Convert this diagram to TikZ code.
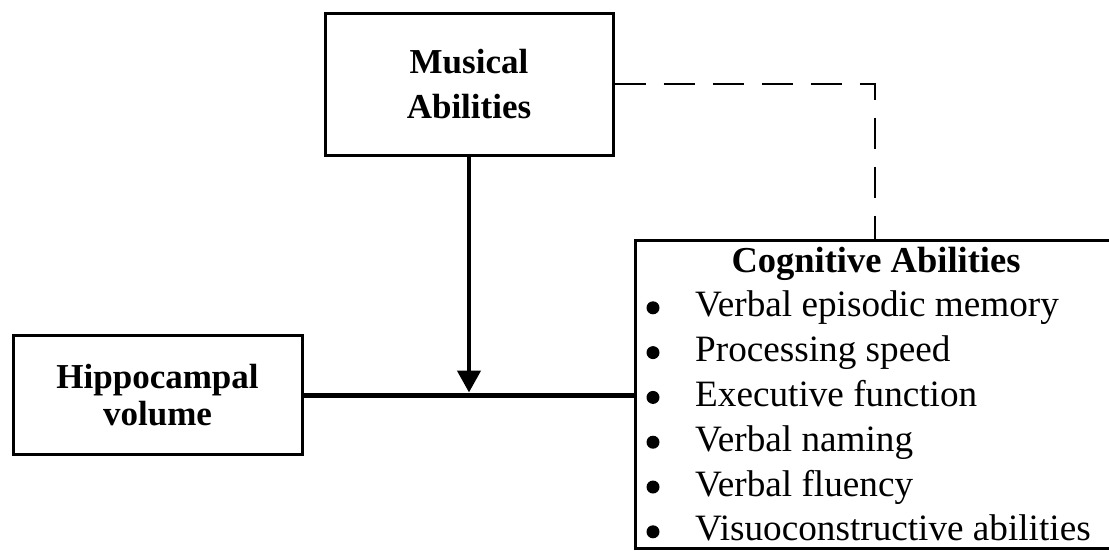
\documentclass[tikz,border=0pt]{standalone}
\usepackage{fontspec}
\setmainfont{Liberation Serif}
\usetikzlibrary{arrows.meta}
\begin{document}
\begin{tikzpicture}[x=1pt,y=-1pt,
  box/.style={draw, line width=3pt, inner sep=0pt, fill=white},
  boldtext/.style={font=\fontsize{35}{45}\selectfont\bfseries, align=center},
  titletext/.style={font=\fontsize{36.5}{44}\selectfont\bfseries, anchor=base, inner sep=0pt},
  itemtext/.style={font=\fontsize{37.2}{44}\selectfont, anchor=base west, inner sep=0pt},
  dot/.style={circle, fill=black, inner sep=0pt, minimum size=13pt},
  link/.style={line width=5pt},
  dashlink/.style={line width=2pt, dash pattern=on 31pt off 18pt},
]
\clip (0,0) rectangle (1109,550);
\fill[white] (0,0) rectangle (1109,550);
\node[box, minimum width=288pt, minimum height=142pt, boldtext] (mus) at (469,84) {Musical\\Abilities};
\node[box, minimum width=289pt, minimum height=119pt, boldtext] (hip) at (157.5,395) {Hippocampal\\[-8pt]volume};
\node[box, minimum width=500pt, minimum height=308pt] (cog) at (885,394) {};
\coordinate (cogtop) at ([xshift=-10pt]cog.north);
\node[titletext] (title) at (876,272) {Cognitive Abilities};
\foreach \t [count=\i] in {Verbal episodic memory, Processing speed, Executive function, Verbal naming, Verbal fluency, Visuoconstructive abilities}{
  \node[dot] (b\i) at (653,{263+44.8*\i}) {};
  \node[itemtext] (it\i) at (695,{272+44.8*\i}) {\t};
}
\draw[link] (hip.east) -- (hip.east -| cog.west);
\draw[line width=4.5pt, shorten >=2.5pt, -{Triangle[length=22pt,width=23pt]}] (mus.south) -- (mus.south |- hip.east);
\draw[dashlink] (mus.east) -| (cogtop);
\end{tikzpicture}
\end{document}
